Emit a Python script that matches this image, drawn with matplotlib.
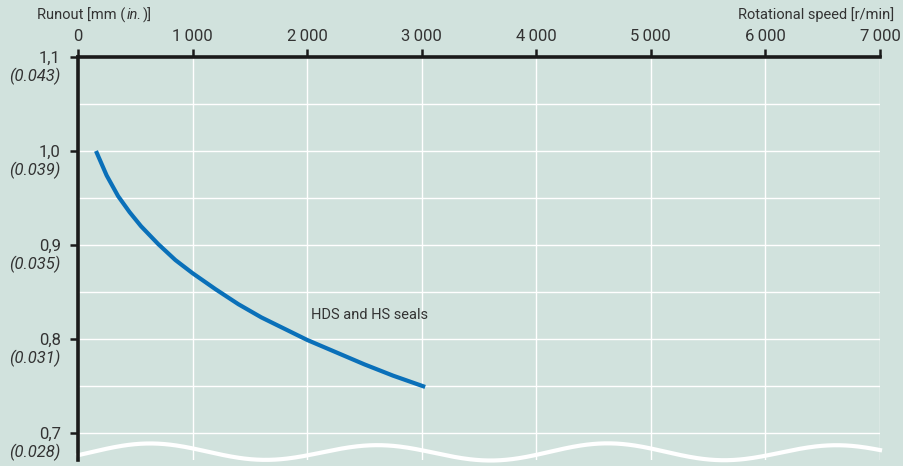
import matplotlib.pyplot as plt
import numpy as np

# data
speed = [157, 250, 350, 450, 550, 700, 850, 1000, 1200, 1400, 1600, 1800,
         2000, 2250, 2500, 2750, 3030]
runout = [1.000, 0.974, 0.952, 0.935, 0.920, 0.901, 0.884, 0.870, 0.853, 0.837,
          0.823, 0.811, 0.799, 0.786, 0.773, 0.761, 0.749]

x_ticks = [0, 1000, 2000, 3000, 4000, 5000, 6000, 7000]
x_labels = ['0', '1\u2009000', '2\u2009000', '3\u2009000', '4\u2009000', '5\u2009000', '6\u2009000', '7\u2009000']
y_ticks = [0.7, 0.8, 0.9, 1.0, 1.1]
y_mm = ['0,7', '0,8', '0,9', '1,0', '1,1']
y_in = ['(0.028)', '(0.031)', '(0.035)', '(0.039)', '(0.043)']

bg = '#d1e2dd'
txt = '#333333'
dark = '#1a1a1a'
plt.rcParams['font.family'] = ['Roboto', 'DejaVu Sans']

fig = plt.figure(figsize=(9.04, 4.66), dpi=100, facecolor=bg)
ax = fig.add_axes([78/904, 6/466, 802/904, 403/466], facecolor=bg)

ax.set_xlim(0, 7000)
ax.set_ylim(1.1 - 403/940, 1.1)

# grid
for gx in x_ticks[1:]:
    ax.axvline(gx, color='white', lw=1.0, zorder=1)
for gy in np.arange(0.7, 1.1, 0.05):
    ax.axhline(gy, color='white', lw=1.0, zorder=1)

# curve
ax.plot(speed, runout, color='#0a70b9', lw=3, solid_capstyle='butt', zorder=3)
ax.text(2030, 0.826, 'HDS and HS seals', fontsize=10.5, color=txt, va='center', ha='left')

# wavy break line at the bottom (decoration)
wx = np.linspace(0, 7000, 400)
wy = 0.6795 + 0.0085*np.sin(2*np.pi*(wx - 120)/2000) + 0.001*np.sin(wx/600)
ax.plot(wx, wy, color='white', lw=3, zorder=2, clip_on=False)

# spines
for s in ['right', 'bottom']:
    ax.spines[s].set_visible(False)
for s in ['top', 'left']:
    ax.spines[s].set_color(dark)
    ax.spines[s].set_linewidth(2.6)

ax.xaxis.tick_top()
ax.set_xticks(x_ticks)
ax.set_xticklabels(x_labels)
ax.tick_params(axis='x', top=True, bottom=False, length=6, width=1.8, color=dark,
               labelsize=12, labelcolor=txt, pad=3)
ax.set_yticks(y_ticks)
ax.set_yticklabels([''] * len(y_ticks))
ax.tick_params(axis='y', length=6, width=1.8, color=dark)

for v, a, b in zip(y_ticks, y_mm, y_in):
    ax.annotate(a, (0, v), xytext=(-12.5, -1), textcoords='offset points', xycoords=('axes fraction', 'data'),
                ha='right', va='center', fontsize=12, color=txt)
    ax.annotate(b, (0, v), xytext=(-12.5, -14), textcoords='offset points', xycoords=('axes fraction', 'data'),
                ha='right', va='center', fontsize=12, color=txt, style='italic')

# axis titles
r = fig.canvas.get_renderer()
y0 = 1 - 15/466
t1 = fig.text(37/904, y0, 'Runout [mm (', ha='left', va='center', fontsize=10.5, color=txt)
bb = t1.get_window_extent(r)
t2 = fig.text(bb.x1/904 + 1/904, y0, 'in.', ha='left', va='center', fontsize=10.5, color=txt, style='italic')
bb = t2.get_window_extent(r)
fig.text(bb.x1/904 + 1/904, y0, ')]', ha='left', va='center', fontsize=10.5, color=txt)
fig.text(894/904, y0, 'Rotational speed [r/min]', ha='right', va='center', fontsize=10.5, color=txt)

fig.savefig('out.png', dpi=100, facecolor=bg)
